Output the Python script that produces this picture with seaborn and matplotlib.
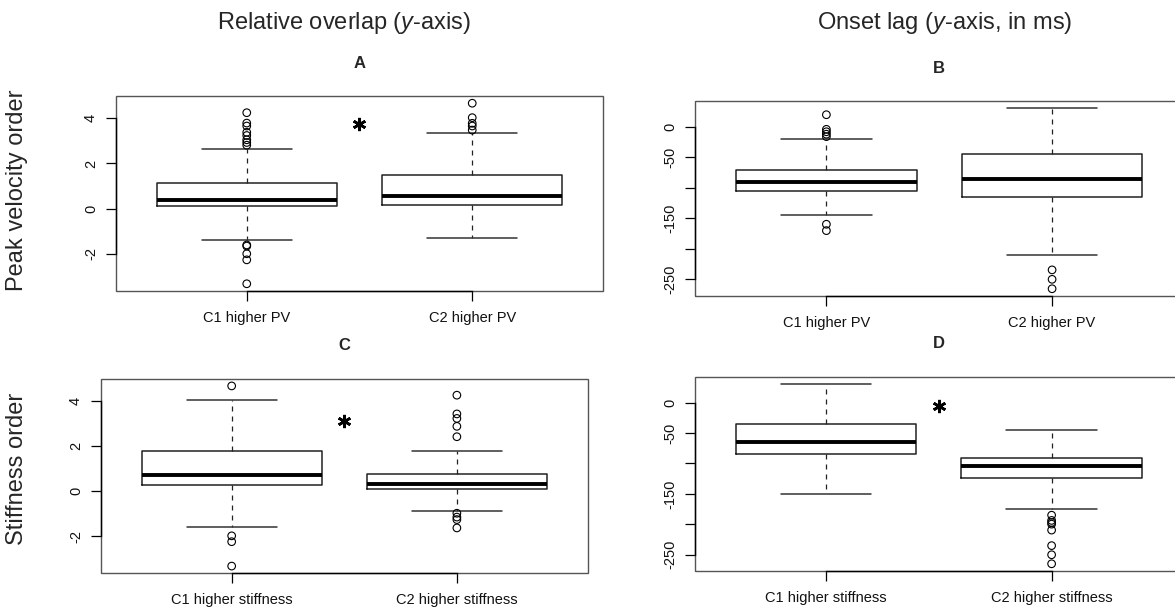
import numpy as np
import pandas as pd
import matplotlib
matplotlib.use("Agg")
import matplotlib.pyplot as plt
import seaborn as sns
from matplotlib.patches import Rectangle

sns.set_theme(style="white")
plt.rcParams["font.family"] = ["Liberation Sans", "DejaVu Sans"]
plt.rcParams["mathtext.fontset"] = "custom"
plt.rcParams["mathtext.rm"] = "Liberation Sans"
plt.rcParams["mathtext.it"] = "Liberation Sans:italic"

# ── data ──────────────────────────────────────────────────────────────────
groups_pv = ["C1 higher PV", "C2 higher PV"]
groups_st = ["C1 higher stiffness", "C2 higher stiffness"]

# A: relative overlap, peak velocity order
a_q1 = [0.13, 0.18]
a_med = [0.40, 0.57]
a_q3 = [1.14, 1.50]
a_wlo = [-1.41, -1.29]
a_whi = [2.65, 3.33]
a_out1 = [4.25, 3.79, 3.66, 3.38, 3.24, 3.05, 2.93, 2.81, -1.61, -1.66, -2.00, -2.27, -3.33]
a_out2 = [4.67, 4.03, 3.78, 3.66, 3.48]

# B: onset lag, peak velocity order
b_q1 = [-105.0, -115.7]
b_med = [-90.5, -85.5]
b_q3 = [-70.8, -45.0]
b_wlo = [-145.0, -211.0]
b_whi = [-20.0, 30.7]
b_out1 = [20.0, -4.0, -8.0, -12.0, -16.0, -160.0, -170.5]
b_out2 = [-235.0, -250.5, -266.0]

# C: relative overlap, stiffness order
c_q1 = [0.28, 0.09]
c_med = [0.71, 0.31]
c_q3 = [1.78, 0.76]
c_wlo = [-1.60, -0.87]
c_whi = [4.01, 1.78]
c_out1 = [4.65, -1.99, -2.25, -3.33]
c_out2 = [4.24, 3.41, 3.21, 2.86, 2.40, -0.99, -1.16, -1.27, -1.64]

# D: onset lag, stiffness order
d_q1 = [-84.8, -124.7]
d_med = [-65.0, -105.0]
d_q3 = [-35.0, -90.3]
d_wlo = [-150.0, -175.0]
d_whi = [30.6, -44.9]
d_out1 = []
d_out2 = [-185.0, -193.6, -197.0, -199.7, -209.5, -235.0, -250.0, -264.8]

overlap_ticks = [-2, 0, 2, 4]
overlap_labels = ["-2", "0", "2", "4"]
lag_ticks = [-250, -200, -150, -100, -50, 0]
lag_labels = ["-250", "", "-150", "", "-50", "0"]

# significance stars (y position in data units, between the two boxes)
star_a, star_c, star_d = 3.75, 3.11, -6.0


def r_boxplot(ax, labels, q1, med, q3, wlo, whi, out1, out2,
              yticks, yticklabels, title, star=None):
    stats = [dict(label=labels[i], q1=q1[i], med=med[i], q3=q3[i],
                  whislo=wlo[i], whishi=whi[i], fliers=[]) for i in range(2)]
    ax.bxp(stats, positions=[1, 2], widths=0.8, capwidths=0.4,
           showfliers=False,
           boxprops=dict(color="#222222", lw=1.1),
           medianprops=dict(color="black", lw=2.8),
           whiskerprops=dict(color="#222222", lw=0.9, ls=(0, (4, 4))),
           capprops=dict(color="#333333", lw=1.1))

    fl = pd.DataFrame({"pos": [1] * len(out1) + [2] * len(out2),
                       "val": list(out1) + list(out2)})
    if len(fl):
        sns.scatterplot(data=fl, x="pos", y="val", ax=ax, marker="o", s=30,
                        facecolor="none", edgecolor="black", linewidth=0.8,
                        zorder=3)

    # R-style limits: 4% padding around the data range
    allv = list(wlo) + list(whi) + list(out1) + list(out2)
    lo, hi = min(allv), max(allv)
    pad = (hi - lo) * 0.04
    ax.set_ylim(lo - pad, hi + pad)
    ax.set_xlim(0.42, 2.58)

    ax.set_xticks([1, 2])
    ax.set_xticklabels(labels)
    ax.set_yticks(yticks)
    ax.set_yticklabels(yticklabels, rotation=90, va="center")
    ax.set_xlabel("")
    ax.set_ylabel("")
    ax.tick_params(axis="both", direction="out", length=7, width=0.9,
                   color="black", labelsize=10.5, pad=6,
                   left=True, bottom=True, labelcolor="#111111")
    ax.tick_params(axis="x", pad=7.5)

    # grey frame + darker axis lines between first and last tick
    ax.add_patch(Rectangle((0, 0), 1, 1, transform=ax.transAxes, fill=False,
                           ec="#555555", lw=1.0, clip_on=False, zorder=2))
    for side in ["top", "right"]:
        ax.spines[side].set_visible(False)
    ax.spines["left"].set_bounds(yticks[0], yticks[-1])
    ax.spines["bottom"].set_bounds(1, 2)
    for side in ["left", "bottom"]:
        ax.spines[side].set_color("black")
        ax.spines[side].set_linewidth(1.0)
        ax.spines[side].set_zorder(4)

    ax.set_title(title, fontsize=12, fontweight="bold", pad=20.5)
    if star is not None:
        ax.plot([1.5], [star], marker=(6, 2, 0), ms=9.5, mew=1.9,
                color="black", ls="none")


fig = plt.figure(figsize=(11.75, 6.08), dpi=100)
ax_a = fig.add_axes([0.0987, 0.5214, 0.4145, 0.3207])
ax_b = fig.add_axes([0.5919, 0.5132, 0.4149, 0.3207])
ax_c = fig.add_axes([0.0860, 0.0571, 0.4140, 0.3200])
ax_d = fig.add_axes([0.5915, 0.0609, 0.4149, 0.3195])

r_boxplot(ax_a, groups_pv, a_q1, a_med, a_q3, a_wlo, a_whi, a_out1, a_out2,
          overlap_ticks, overlap_labels, "A", star_a)
r_boxplot(ax_b, groups_pv, b_q1, b_med, b_q3, b_wlo, b_whi, b_out1, b_out2,
          lag_ticks, lag_labels, "B")
r_boxplot(ax_c, groups_st, c_q1, c_med, c_q3, c_wlo, c_whi, c_out1, c_out2,
          overlap_ticks, overlap_labels, "C", star_c)
r_boxplot(ax_d, groups_st, d_q1, d_med, d_q3, d_wlo, d_whi, d_out1, d_out2,
          lag_ticks, lag_labels, "D", star_d)

fig.text(344 / 1175, 1 - 23 / 608, r"Relative overlap ($\mathit{y}$-axis)",
         fontsize=17, ha="center", va="center")
fig.text(945 / 1175, 1 - 23 / 608, r"Onset lag ($\mathit{y}$-axis, in ms)",
         fontsize=17, ha="center", va="center")
fig.text(17 / 1175, 1 - 190 / 608, "Peak velocity order", fontsize=17,
         rotation=90, ha="center", va="center")
fig.text(17 / 1175, 1 - 469 / 608, "Stiffness order", fontsize=17,
         rotation=90, ha="center", va="center")

fig.savefig("out.png", dpi=100)
